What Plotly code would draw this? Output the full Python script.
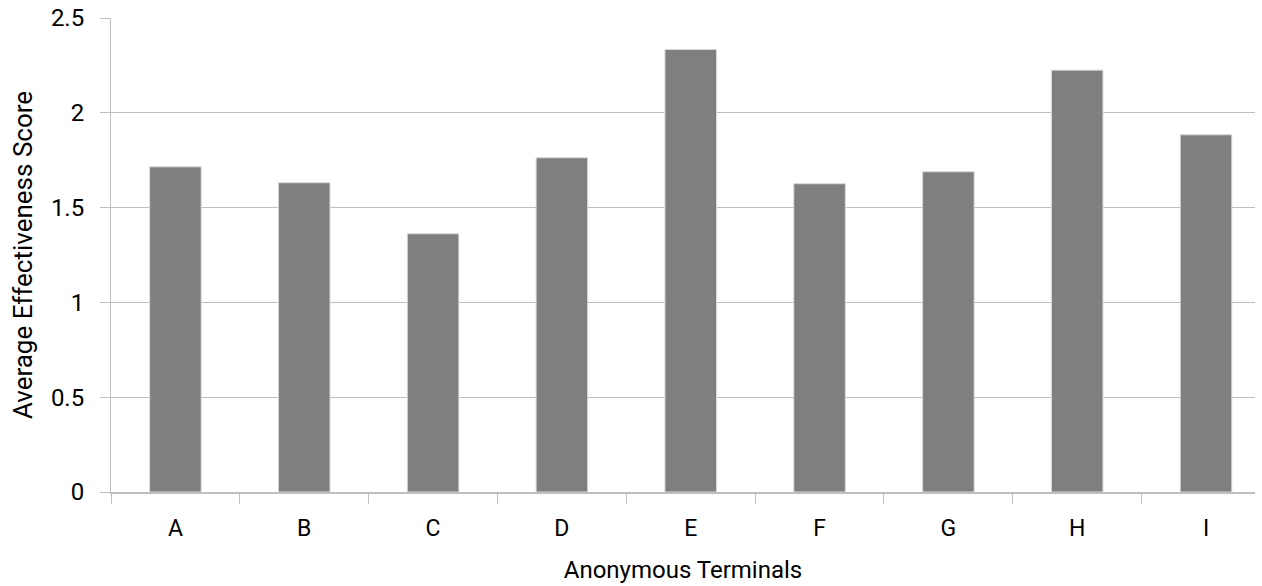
import plotly.graph_objects as go

categories = ["A", "B", "C", "D", "E", "F", "G", "H", "I"]
scores = [1.715, 1.631, 1.362, 1.763, 2.334, 1.626, 1.689, 2.225, 1.884]
y_ticks = [0, 0.5, 1, 1.5, 2, 2.5]
y_tick_labels = ["0", "0.5", "1", "1.5", "2", "2.5"]

FONT = "Roboto, Arial, sans-serif"

fig = go.Figure(
    go.Bar(
        x=categories,
        y=scores,
        width=0.4,
        marker=dict(color="#7F7F7F", line=dict(color="#D9D9D9", width=1)),
        hoverinfo="x+y",
    )
)

fig.update_layout(
    width=1262,
    height=586,
    margin=dict(l=111, r=7, t=18, b=94),
    paper_bgcolor="white",
    plot_bgcolor="white",
    showlegend=False,
    font=dict(family=FONT, color="#000000", size=24),
)

fig.update_xaxes(
    type="category",
    range=[-0.5, 8.38],
    showgrid=False,
    showline=True,
    linecolor="#BFBFBF",
    linewidth=1.5,
    ticks="outside",
    tickson="boundaries",
    ticklen=10,
    tickcolor="#BFBFBF",
    tickwidth=1,
    tickfont=dict(size=23, family=FONT, color="#000000"),
    ticklabelstandoff=15,
    title=dict(text="Anonymous Terminals", font=dict(size=24, family=FONT, color="#000000"), standoff=20),
    automargin=False,
)

fig.update_yaxes(
    range=[0, 2.5],
    tickmode="array",
    tickvals=y_ticks,
    ticktext=y_tick_labels,
    showgrid=True,
    gridcolor="#BFBFBF",
    gridwidth=1,
    showline=True,
    linecolor="#BFBFBF",
    linewidth=1,
    ticks="outside",
    ticklen=10,
    tickcolor="#BFBFBF",
    tickwidth=1,
    tickfont=dict(size=24, family=FONT, color="#000000"),
    ticklabelstandoff=11,
    zeroline=False,
    title=dict(text="Average Effectiveness Score", font=dict(size=26, family=FONT, color="#000000"), standoff=10),
    automargin=False,
)

fig.write_html(
    "out.html",
    config={"displayModeBar": False},
    post_script="document.body.style.margin='0';",
)
